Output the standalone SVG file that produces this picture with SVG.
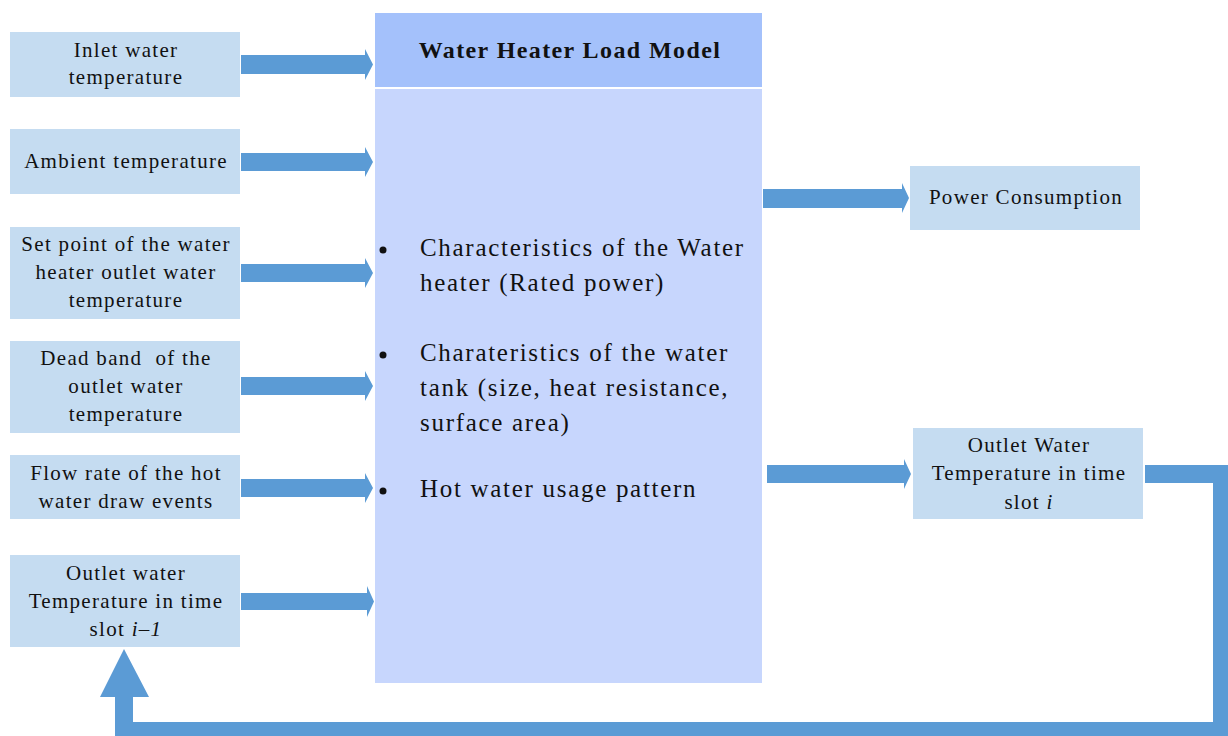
<svg xmlns="http://www.w3.org/2000/svg" width="1228" height="736" viewBox="0 0 1228 736">
<style>
.box{fill:#c5dcf1}
.t{font-family:"Liberation Serif",serif;font-size:21px;letter-spacing:1.3px;fill:#111;text-anchor:middle}
.b{font-family:"Liberation Serif",serif;font-size:25px;letter-spacing:1.7px;fill:#111}
.arr{fill:#5b9bd5}
</style>
<rect x="0" y="0" width="1228" height="736" fill="#fff"/>
<g id="main">
<rect x="375" y="13" width="387" height="74" fill="#a4c1fb"/>
<rect x="375" y="89" width="387" height="594" fill="#c7d6fd"/>
<text x="570" y="58" font-family="Liberation Serif,serif" font-size="24" font-weight="bold" letter-spacing="1.4" text-anchor="middle" fill="#111">Water Heater Load Model</text>
<circle cx="383" cy="250" r="3.5" fill="#111"/>
<text class="b" x="420" y="256">Characteristics of the Water</text>
<text class="b" x="420" y="291">heater (Rated power)</text>
<circle cx="383" cy="355" r="3.5" fill="#111"/>
<text class="b" x="420" y="361">Charateristics of the water</text>
<text class="b" x="420" y="396">tank (size, heat resistance,</text>
<text class="b" x="420" y="431">surface area)</text>
<circle cx="383" cy="491" r="3.5" fill="#111"/>
<text class="b" x="420" y="497">Hot water usage pattern</text>
</g>
<g id="n1"><rect class="box" x="10" y="32" width="230" height="65"/>
<text class="t" x="126" y="57">Inlet water</text><text class="t" x="126" y="84">temperature</text></g>
<g id="n2"><rect class="box" x="10" y="129" width="230" height="65"/>
<text class="t" x="126" y="168">Ambient temperature</text></g>
<g id="n3"><rect class="box" x="10" y="227" width="230" height="92"/>
<text class="t" x="126" y="251">Set point of the water</text><text class="t" x="126" y="279">heater outlet water</text><text class="t" x="126" y="307">temperature</text></g>
<g id="n4"><rect class="box" x="10" y="341" width="230" height="92"/>
<text class="t" x="126" y="365" xml:space="preserve">Dead band  of the</text><text class="t" x="126" y="393">outlet water</text><text class="t" x="126" y="421">temperature</text></g>
<g id="n5"><rect class="box" x="10" y="455" width="230" height="64"/>
<text class="t" x="126" y="480">Flow rate of the hot</text><text class="t" x="126" y="508">water draw events</text></g>
<g id="n6"><rect class="box" x="10" y="555" width="230" height="92"/>
<text class="t" x="126" y="580">Outlet water</text><text class="t" x="126" y="608">Temperature in time</text><text class="t" x="126" y="636">slot <tspan font-style="italic">i</tspan>–<tspan font-style="italic">1</tspan></text></g>
<g id="n7"><rect class="box" x="910" y="166" width="230" height="64"/>
<text class="t" x="1026" y="204">Power Consumption</text></g>
<g id="n8"><rect class="box" x="913" y="428" width="230" height="91"/>
<text class="t" x="1029" y="452">Outlet Water</text><text class="t" x="1029" y="480">Temperature in time</text><text class="t" x="1029" y="509">slot <tspan font-style="italic">i</tspan></text></g>
<g id="connectors">
<polygon class="arr" points="241,55 365,55 365,49 373,64.5 365,80 365,74 241,74"/>
<polygon class="arr" points="241,153 365,153 365,147 373,162 365,177 365,171 241,171"/>
<polygon class="arr" points="241,264 365,264 365,258 373,273 365,288 365,282 241,282"/>
<polygon class="arr" points="241,377 365,377 365,371 373,386 365,401 365,395 241,395"/>
<polygon class="arr" points="241,479 365,479 365,473 373,488 365,503 365,497 241,497"/>
<polygon class="arr" points="241,593 367,593 367,586 374,601.5 367,617 367,610 241,610"/>
<polygon class="arr" points="763,189 902,189 902,183 909,198 902,213 902,208 763,208"/>
<polygon class="arr" points="767,465 904,465 904,459 911,474 904,489 904,483 767,483"/>
<polygon class="arr" points="1145,465 1228,465 1228,736 115,736 115,697 100,697 124,649 149,697 133,697 133,722 1213,722 1213,483 1145,483"/>
</g>
</svg>
